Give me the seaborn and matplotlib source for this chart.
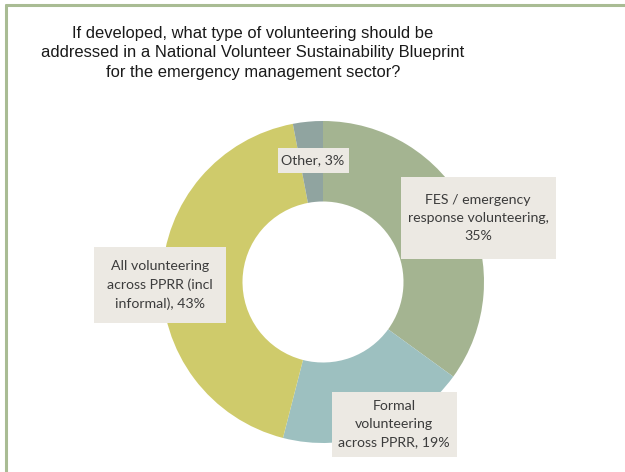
import matplotlib
matplotlib.use("Agg")
import matplotlib.pyplot as plt
import seaborn as sns
from matplotlib.patches import Rectangle
from matplotlib.lines import Line2D
import numpy as np

# ---- data ----
categories = [
    "FES / emergency\nresponse volunteering,",
    "Formal\nvolunteering\nacross PPRR,",
    "All volunteering\nacross PPRR (incl\ninformal),",
    "Other,",
]
values = [35, 19, 43, 3]
title = ("If developed, what type of volunteering should be\n"
         "addressed in a National Volunteer Sustainability Blueprint\n"
         "for the emergency management sector?")

# ---- style ----
colors = ["#a4b491", "#9dc0c0", "#cfcb6b", "#90a4a0"]
box_color = "#ece9e3"
text_color = "#3c3c3c"
border_color = "#a9bc94"

sns.set_theme(style="white")
plt.rcParams["font.family"] = ["Liberation Sans", "DejaVu Sans"]

W, H = 625, 472
fig = plt.figure(figsize=(W / 100, H / 100), dpi=100)
fig.patch.set_facecolor("white")

# border lines (top and left)
fig.add_artist(Line2D([6 / W, 1], [1 - 5 / H, 1 - 5 / H], color=border_color, lw=2.2,
                      transform=fig.transFigure))
fig.add_artist(Line2D([6 / W, 6 / W], [0, 1 - 5 / H], color=border_color, lw=2.2,
                      transform=fig.transFigure))

# donut axes: center (323, 282) px, radius 161 px
cx, cy, R = 323, 282, 161
ax = fig.add_axes([(cx - R) / W, (H - cy - R) / H, 2 * R / W, 2 * R / H])
wedges, _ = ax.pie(values, colors=colors, startangle=90, counterclock=False,
                   radius=1.0, wedgeprops=dict(width=0.5, linewidth=0))
ax.set_xlim(-1, 1)
ax.set_ylim(-1, 1)
ax.set_aspect("equal")
ax.axis("off")

# label boxes: centre (px) and size (px) — layout only
label_layout = [
    ((478, 218), (155, 82)),
    ((394, 424), (125, 65)),
    ((160, 285), (132, 76)),
    ((313, 160), (71, 25)),
]
for cat, val, ((px, py), (bw, bh)) in zip(categories, values, label_layout):
    txt = f"{cat} {val}%"
    if cat.startswith("FES"):
        txt = f"{cat}\n{val}%"
    xd = (px - cx) / R
    yd = (cy - py) / R
    wd, hd = bw / R, bh / R
    ax.add_patch(Rectangle((xd - wd / 2, yd - hd / 2), wd, hd, facecolor=box_color,
                           edgecolor="none", zorder=3, clip_on=False))
    ax.text(xd, yd, txt, ha="center", va="center", fontsize=10.2, color=text_color,
            family=["Lato", "DejaVu Sans"], linespacing=1.6, zorder=4)

fig.text(253 / W, 1 - 53 / H, title, ha="center", va="center", fontsize=11.9,
         color="#1a1a1a", linespacing=1.4)

fig.savefig("out.png", dpi=100)
